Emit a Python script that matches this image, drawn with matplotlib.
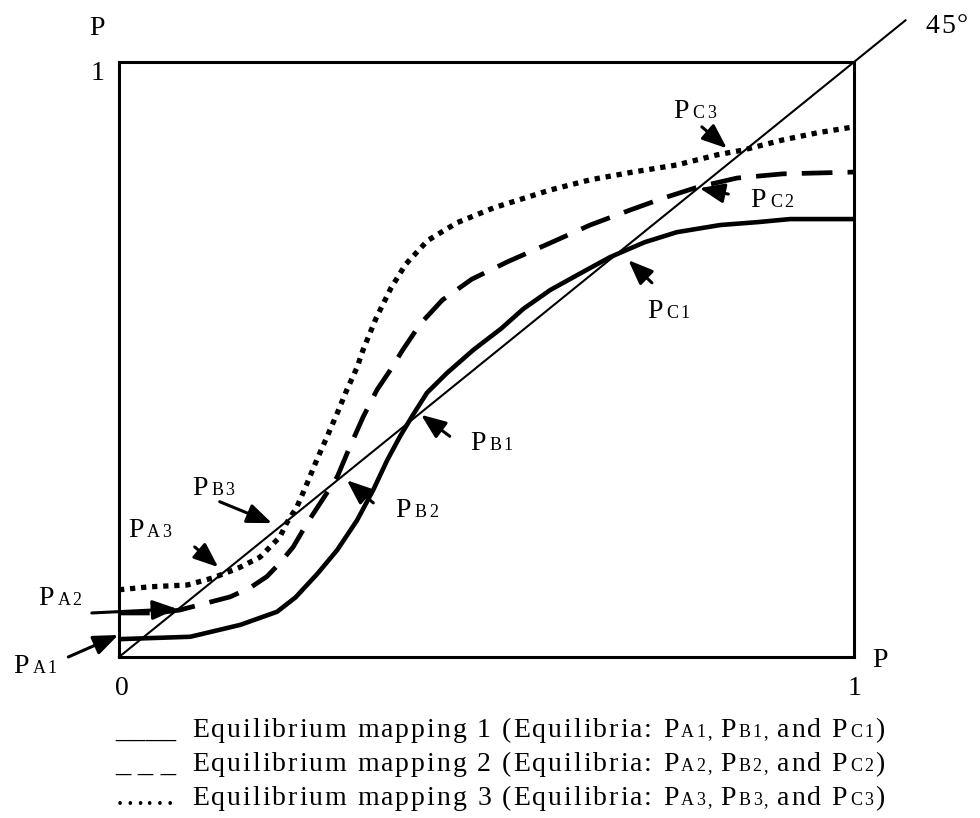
import matplotlib
matplotlib.use('Agg')
import matplotlib.pyplot as plt
from matplotlib.transforms import IdentityTransform
from matplotlib.font_manager import FontProperties, findfont
from matplotlib.ft2font import FT2Font

plt.rcParams['font.family'] = ['Liberation Serif', 'DejaVu Serif']

# equilibrium mapping 1 (solid)
x1 = [0, 0.097, 0.165, 0.215, 0.24, 0.27, 0.297, 0.324, 0.346, 0.365, 0.382, 0.400, 0.419,
      0.446, 0.482, 0.52, 0.55, 0.587, 0.628, 0.668, 0.715, 0.759, 0.818, 0.870, 0.913, 1.0]
y1 = [0.030, 0.034, 0.054, 0.076, 0.100, 0.140, 0.180, 0.230, 0.281, 0.331, 0.370, 0.407, 0.444,
      0.477, 0.516, 0.552, 0.585, 0.617, 0.645, 0.672, 0.697, 0.714, 0.726, 0.731, 0.736, 0.736]

# equilibrium mapping 2 (dashed)
x2 = [0, 0.052, 0.083, 0.120, 0.151, 0.178, 0.201, 0.219, 0.237, 0.256, 0.283, 0.297, 0.314, 0.332,
      0.351, 0.369, 0.386, 0.41, 0.44, 0.48, 0.53, 0.587, 0.641, 0.695, 0.740, 0.788, 0.841, 0.903, 1.0]
y2 = [0.074, 0.074, 0.079, 0.091, 0.101, 0.116, 0.135, 0.158, 0.185, 0.225, 0.276, 0.303, 0.353, 0.403,
      0.449, 0.482, 0.516, 0.56, 0.60, 0.635, 0.665, 0.696, 0.726, 0.751, 0.771, 0.790, 0.805, 0.812, 0.815]

# equilibrium mapping 3 (dotted)
x3 = [0, 0.042, 0.093, 0.128, 0.155, 0.165, 0.192, 0.219, 0.228, 0.242, 0.256, 0.269, 0.283, 0.297,
      0.310, 0.324, 0.332, 0.35, 0.37, 0.39, 0.42, 0.46, 0.51, 0.587, 0.641, 0.699, 0.759, 0.814,
      0.849, 0.903, 0.950, 1.0]
y3 = [0.113, 0.118, 0.121, 0.133, 0.146, 0.151, 0.168, 0.202, 0.225, 0.252, 0.292, 0.331, 0.370, 0.410,
      0.449, 0.487, 0.516, 0.57, 0.62, 0.66, 0.70, 0.73, 0.755, 0.785, 0.802, 0.815, 0.827, 0.844,
      0.852, 0.869, 0.881, 0.891]

# equilibrium labels: name, label position, arrow tail, arrow tip (data coords)
eq_names = ['A1', 'A2', 'A3', 'B1', 'B2', 'B3', 'C1', 'C2', 'C3']
eq_label = [(-0.144, -0.027), (-0.110, 0.087), (0.012, 0.202), (0.478, 0.348), (0.376, 0.235),
            (0.099, 0.272), (0.718, 0.570), (0.859, 0.756), (0.754, 0.906)]
eq_tail = [(-0.069, 0.0), (-0.037, 0.074), (0.103, 0.185), (0.450, 0.371), (0.346, 0.259),
           (0.137, 0.261), (0.725, 0.629), (0.829, 0.778), (0.793, 0.891)]
eq_tip = [(-0.001, 0.037), (0.079, 0.081), (0.135, 0.151), (0.411, 0.407), (0.310, 0.297),
          (0.208, 0.225), (0.693, 0.667), (0.790, 0.788), (0.827, 0.855)]

legend_marks = ['____', '_ _ _', '\u2026\u2026']
legend_ids = ['1', '2', '3']

big = 20
small = 13
track = 2.0   # extra letter spacing, px
serif = ['Liberation Serif', 'DejaVu Serif']

fig = plt.figure(figsize=(9.8, 8.18), dpi=100)
W, H = 980, 818
ax = fig.add_axes([119 / W, 1 - 657 / H, 735 / W, 595 / H])
ax.set_xlim(0, 1)
ax.set_ylim(0, 1)
ax.set_xticks([])
ax.set_yticks([])
for sp in ax.spines.values():
    sp.set_linewidth(2.2)

ax.plot([0, 1.07], [0, 1.07], color='k', lw=1.5, clip_on=False)
ax.plot(x1, y1, color='k', lw=3.3)
ax.plot(x2, y2, color='k', lw=3.4, ls=(0, (6.5, 3.2)))
ax.plot(x3, y3, color='k', lw=3.8, ls=(0, (1, 1.1)))

ident = IdentityTransform()
# separate font object just for measuring advances
meas = FT2Font(findfont(FontProperties(family='Liberation Serif')))


def spaced(x, y, s, size, tr=track):
    # draw s one glyph at a time with extra tracking, return end x
    meas.set_size(size, 100)
    for ch in s:
        if ch != ' ':
            fig.text(x, y, ch, fontsize=size, family=serif,
                     ha='left', va='baseline', transform=ident)
        x += meas.load_char(ord(ch)).linearHoriAdvance / 65536 + tr
    return x


def chain(x, y, pieces):
    for s, size, gap in pieces:
        x = spaced(x, y, s, size) + gap
    return x


for name, lab, tail, tip in zip(eq_names, eq_label, eq_tail, eq_tip):
    px, py = ax.transData.transform(lab)
    chain(px, py, [('P', big, 2), (name, small, 0)])
    ax.annotate('', xy=tip, xytext=tail, annotation_clip=False,
                arrowprops=dict(arrowstyle='-|>,head_length=0.75,head_width=0.3',
                                mutation_scale=20, lw=2.2, color='k',
                                shrinkA=0, shrinkB=0))

# axis labels
fig.text(97, H - 35, 'P', fontsize=big, family=serif, ha='center', va='baseline', transform=ident)
fig.text(98, H - 80, '1', fontsize=big, family=serif, ha='center', va='baseline', transform=ident)
fig.text(122, H - 695, '0', fontsize=big, family=serif, ha='center', va='baseline', transform=ident)
fig.text(855, H - 695, '1', fontsize=big, family=serif, ha='center', va='baseline', transform=ident)
fig.text(872, H - 667, 'P', fontsize=big, family=serif, ha='left', va='baseline', transform=ident)
spaced(925, H - 33, '45\u00b0', big)

# legend text
for k, (mark, i) in enumerate(zip(legend_marks, legend_ids)):
    yb = H - (737 + 34 * k)
    fig.text(115, yb, mark, fontsize=big + 2, family=serif,
             ha='left', va='baseline', transform=ident)
    chain(192, yb, [('Equilibrium mapping %s (Equilibria: ' % i, big, 0),
                    ('P', big, 1), ('A%s, ' % i, small, 0),
                    ('P', big, 1), ('B%s, ' % i, small, 0),
                    ('and P', big, 1), ('C%s' % i, small, 0),
                    (')', big, 0)])

fig.savefig('out.png', dpi=100)
